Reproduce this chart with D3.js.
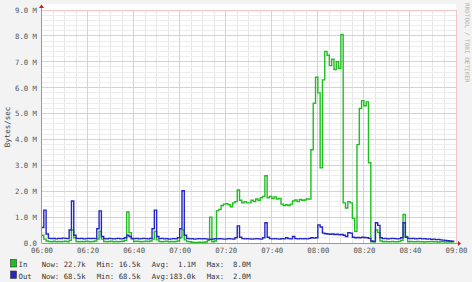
<!DOCTYPE html>
<html>
<head>
<meta charset="utf-8">
<script src="https://cdn.jsdelivr.net/npm/d3@7"></script>
<style>
  html, body { margin: 0; padding: 0; background: #f3f3f3; }
  text { font-family: "DejaVu Sans Mono", monospace; white-space: pre; }
</style>
</head>
<body>
<script>
// minutes after 06:00, one sample per minute, values in MBytes/sec
const inValues = [
  0.30, 0.15, 0.08, 0.06, 0.05, 0.07, 0.05, 0.06, 0.05, 0.06,   // 0
  0.07, 0.05, 0.10, 0.50, 0.20, 0.06, 0.05, 0.06, 0.05, 0.07,   // 10
  0.06, 0.05, 0.06, 0.08, 0.15, 0.45, 0.15, 0.06, 0.05, 0.06,   // 20
  0.07, 0.05, 0.06, 0.05, 0.06, 0.07, 0.10, 1.20, 0.40, 0.15,   // 30
  0.06, 0.07, 0.06, 0.05, 0.06, 0.07, 0.06, 0.08, 0.15, 0.45,   // 40
  0.12, 0.06, 0.05, 0.06, 0.07, 0.05, 0.06, 0.05, 0.06, 0.08,   // 50
  0.20, 0.50, 0.12, 0.06, 0.05, 0.03, 0.02, 0.02, 0.03, 0.02,   // 60
  0.03, 0.04, 0.10, 1.00, 0.05, 0.08, 1.25, 1.30, 1.45, 1.50,   // 70
  1.52, 1.48, 1.40, 1.55, 1.60, 2.05, 1.65, 1.55, 1.60, 1.55,   // 80
  1.55, 1.65, 1.60, 1.70, 1.65, 1.75, 1.80, 2.60, 1.75, 1.80,   // 90
  1.72, 1.78, 1.70, 1.72, 1.50, 1.45, 1.48, 1.45, 1.50, 1.62,   // 100
  1.66, 1.60, 1.68, 1.65, 1.66, 1.70, 1.70, 3.60, 5.40, 6.40,   // 110
  5.80, 2.90, 6.30, 7.40, 7.25, 6.85, 7.10, 6.70, 7.00, 6.75,   // 120
  8.05, 1.55, 1.35, 1.60, 1.55, 0.95, 0.45, 3.80, 5.20, 5.50,   // 130
  5.30, 5.45, 3.10, 0.05, 0.05, 0.50, 0.40, 0.08, 0.05, 0.06,   // 140
  0.05, 0.05, 0.06, 0.05, 0.05, 0.06, 0.10, 1.10, 0.25, 0.05,   // 150
  0.06, 0.05, 0.05, 0.06, 0.05, 0.05, 0.04, 0.05, 0.05, 0.06,   // 160
  0.05, 0.05, 0.04, 0.05, 0.05, 0.04, 0.05, 0.04, 0.04, 0.03,   // 170
  0.02                                                          // 180
]
const outValues = [
  0.60, 1.27, 0.35, 0.18, 0.17, 0.18, 0.16, 0.18, 0.17, 0.19,   // 0
  0.18, 0.17, 0.50, 1.62, 0.30, 0.18, 0.17, 0.18, 0.16, 0.17,   // 10
  0.18, 0.17, 0.18, 0.17, 0.55, 1.24, 0.25, 0.17, 0.16, 0.18,   // 20
  0.17, 0.16, 0.17, 0.18, 0.16, 0.17, 0.20, 0.30, 0.25, 0.18,   // 30
  0.17, 0.18, 0.16, 0.17, 0.18, 0.17, 0.16, 0.18, 0.55, 1.27,   // 40
  0.25, 0.17, 0.18, 0.16, 0.17, 0.15, 0.16, 0.17, 0.16, 0.20,   // 50
  0.55, 2.02, 0.30, 0.18, 0.16, 0.17, 0.15, 0.16, 0.17, 0.16,   // 60
  0.17, 0.16, 0.15, 0.14, 0.15, 0.17, 0.16, 0.17, 0.16, 0.15,   // 70
  0.16, 0.17, 0.16, 0.15, 0.20, 0.66, 0.22, 0.17, 0.16, 0.17,   // 80
  0.16, 0.15, 0.16, 0.17, 0.16, 0.15, 0.20, 0.78, 0.22, 0.17,   // 90
  0.16, 0.17, 0.16, 0.15, 0.17, 0.16, 0.20, 0.17, 0.16, 0.25,   // 100
  0.17, 0.16, 0.17, 0.16, 0.17, 0.16, 0.18, 0.20, 0.19, 0.20,   // 110
  0.70, 0.62, 0.38, 0.36, 0.35, 0.34, 0.35, 0.33, 0.34, 0.32,   // 120
  0.33, 0.30, 0.25, 0.40, 0.38, 0.22, 0.20, 0.21, 0.20, 0.22,   // 130
  0.21, 0.20, 0.18, 0.08, 0.06, 0.78, 0.68, 0.20, 0.17, 0.18,   // 140
  0.16, 0.17, 0.18, 0.17, 0.16, 0.17, 0.20, 0.78, 0.22, 0.18,   // 150
  0.17, 0.18, 0.16, 0.17, 0.18, 0.16, 0.17, 0.15, 0.16, 0.14,   // 160
  0.15, 0.13, 0.14, 0.12, 0.11, 0.10, 0.09, 0.08, 0.07, 0.06,   // 170
  0.05                                                          // 180
]
const xTickMinutes = [0, 20, 40, 60, 80, 100, 120, 140, 160, 180]
const xTickLabels = ["06:00", "06:20", "06:40", "07:00", "07:20", "07:40", "08:00", "08:20", "08:40", "09:00"]
const yTickValues = [0, 1, 2, 3, 4, 5, 6, 7, 8, 9]
const yTickLabels = ["0.0", "1.0 M", "2.0 M", "3.0 M", "4.0 M", "5.0 M", "6.0 M", "7.0 M", "8.0 M", "9.0 M"]
const seriesNames = ["In", "Out"]
const legendNow = ["Now: 22.7k", "Now: 68.5k"]
const legendMin = ["Min: 16.5k", "Min: 68.5k"]
const legendAvg = ["Avg:  1.1M", "Avg:183.0k"]
const legendMax = ["Max:  8.0M", "Max:  2.0M"]

const width = 472
const height = 282
const colors = ["#1fbf1f", "#2626c4"]

const x = d3.scaleLinear().domain([0, 180]).range([41.5, 456])
const y = d3.scaleLinear().domain([0, 9]).range([243, 10])

const svg = d3.select("body").append("svg")
    .attr("width", width)
    .attr("height", height)

svg.append("rect")
    .attr("width", width).attr("height", height)
    .attr("fill", "#f3f3f3")

svg.append("rect")
    .attr("x", x(0)).attr("y", 4)
    .attr("width", x(180) - x(0)).attr("height", y(0) - 4)
    .attr("fill", "#ffffff")

// minor grid
const grid = svg.append("g").attr("shape-rendering", "crispEdges")
grid.selectAll(".vmin")
    .data(d3.range(5, 180, 5).filter(m => m % 20 !== 0))
    .enter().append("line")
    .attr("x1", d => x(d)).attr("x2", d => x(d))
    .attr("y1", y(9)).attr("y2", y(0))
    .attr("stroke", "#e6e6e6").attr("stroke-width", 1)
grid.selectAll(".hmin")
    .data(d3.range(1, 45).map(i => i * 0.2).filter(v => Math.abs(v - Math.round(v)) > 0.01))
    .enter().append("line")
    .attr("x1", x(0)).attr("x2", x(180))
    .attr("y1", d => y(d)).attr("y2", d => y(d))
    .attr("stroke", "#ededed").attr("stroke-width", 1)

// major grid
grid.selectAll(".vmaj")
    .data(xTickMinutes.slice(1))
    .enter().append("line")
    .attr("x1", d => x(d)).attr("x2", d => x(d))
    .attr("y1", y(9)).attr("y2", y(0))
    .attr("stroke", "#f3c6c6").attr("stroke-width", 1)
grid.selectAll(".hmaj")
    .data(yTickValues.slice(1))
    .enter().append("line")
    .attr("x1", x(0)).attr("x2", x(180))
    .attr("y1", d => y(d)).attr("y2", d => y(d))
    .attr("stroke", "#f3c6c6").attr("stroke-width", 1)

// axes
const xAxis = d3.axisBottom(x)
    .tickValues(xTickMinutes)
    .tickFormat((d, i) => xTickLabels[i])
    .tickSize(0).tickPadding(5)
const gx = svg.append("g").attr("transform", `translate(0,${y(0)})`).call(xAxis)
gx.select(".domain").remove()
gx.selectAll("text").attr("font-size", 7.3).attr("fill", "#555")
    .attr("font-family", "DejaVu Sans Mono")

const yAxis = d3.axisLeft(y)
    .tickValues(yTickValues)
    .tickFormat((d, i) => yTickLabels[i])
    .tickSize(0).tickPadding(4)
const gy = svg.append("g").attr("transform", `translate(${x(0) - 0.5},0)`).call(yAxis)
gy.select(".domain").remove()
gy.selectAll("text").attr("font-size", 7.3).attr("fill", "#555")
    .attr("font-family", "DejaVu Sans Mono")

// data lines
const line = d3.line()
    .x((d, i) => x(i))
    .y(d => y(d))
    .curve(d3.curveStepAfter)

svg.append("path")
    .datum(inValues.slice(0, 180))
    .attr("d", line)
    .attr("fill", "none")
    .attr("stroke", colors[0])
    .attr("stroke-width", 1.4)

svg.append("path")
    .datum(outValues.slice(0, 180))
    .attr("d", line)
    .attr("fill", "none")
    .attr("stroke", colors[1])
    .attr("stroke-width", 1.4)

// axis lines with arrows
svg.append("line")
    .attr("x1", x(0)).attr("x2", x(180) + 2)
    .attr("y1", y(0) + 0.5).attr("y2", y(0) + 0.5)
    .attr("stroke", "#999").attr("stroke-width", 1)
svg.append("line")
    .attr("x1", x(0)).attr("x2", x(0))
    .attr("y1", y(0)).attr("y2", 6)
    .attr("stroke", "#999").attr("stroke-width", 1)
svg.append("path")
    .attr("d", `M${x(180) + 2},${y(0) - 2} L${x(180) + 5},${y(0) + 0.5} L${x(180) + 2},${y(0) + 3} Z`)
    .attr("fill", "#b22")
svg.append("path")
    .attr("d", `M${x(0) - 2.5},8 L${x(0)},4.5 L${x(0) + 2.5},8 Z`)
    .attr("fill", "#b22")

// y label
svg.append("text")
    .attr("transform", "translate(10,127) rotate(-90)")
    .attr("text-anchor", "middle")
    .attr("font-size", 7.5)
    .attr("fill", "#444")
    .text("Bytes/sec")

// watermark
svg.append("text")
    .attr("transform", "translate(465,3) rotate(90)")
    .attr("font-size", 6)
    .attr("fill", "#b0b0b0")
    .text("RRDTOOL / TOBI OETIKER")

// legend
const legend = svg.append("g")
seriesNames.forEach((name, i) => {
    const base = 267 + i * 11.5
    legend.append("rect")
        .attr("x", 10.5).attr("y", base - 7.5)
        .attr("width", 6).attr("height", 7.5)
        .attr("fill", colors[i])
        .attr("stroke", "#333").attr("stroke-width", 0.6)
    const row = [
        [18.5, name],
        [41.7, legendNow[i]],
        [96.7, legendMin[i]],
        [151.7, legendAvg[i]],
        [206.7, legendMax[i]]
    ]
    row.forEach(r => {
        legend.append("text")
            .attr("x", r[0]).attr("y", base)
            .attr("font-size", 7.3)
            .attr("fill", "#333")
            .text(r[1])
    })
})
</script>
</body>
</html>
